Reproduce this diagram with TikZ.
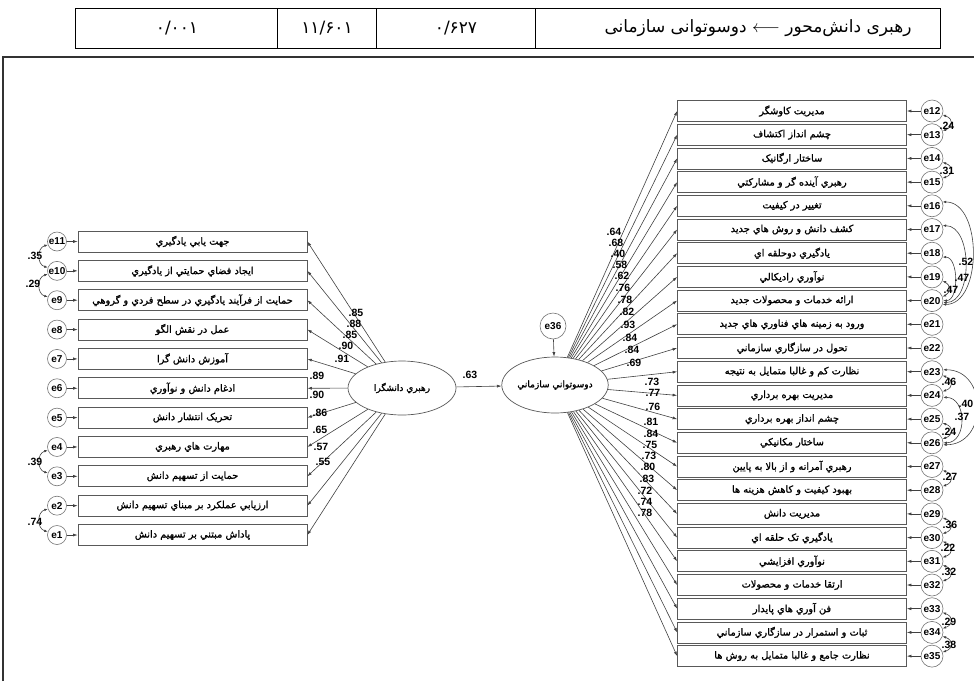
\documentclass[tikz,border=0pt]{standalone}
\usepackage{fontspec}
\setmainfont{Liberation Sans}
\newfontfamily\arab[Script=Arabic]{DejaVu Sans}
\newfontfamily\arabb[Script=Arabic,FakeBold=1.3]{DejaVu Sans}
\TeXXeTstate=1
\usetikzlibrary{shapes.geometric,arrows.meta}
\begin{document}
\begin{tikzpicture}[x=1pt,y=-1pt,
  arr/.style={draw=black!75, line width=0.6pt, -{Latex[length=4.5pt,width=3pt]}},
  cov/.style={draw=black!75, line width=0.6pt, {Latex[length=3.5pt,width=2.6pt]}-{Latex[length=3.5pt,width=2.6pt]}},
  obs/.style={draw=black!65, line width=0.7pt, fill=white, minimum width=229pt, minimum height=21pt, inner sep=0pt, font=\arabb\fontsize{9.8}{10}\selectfont},
  errl/.style={circle, draw=black!55, line width=0.6pt, minimum size=19pt, inner sep=0pt, font=\fontsize{10}{10}\selectfont\bfseries},
  errr/.style={circle, draw=black!55, line width=0.6pt, minimum size=22pt, inner sep=0pt, font=\fontsize{10}{10}\selectfont\bfseries},
  lat/.style={ellipse, draw=black!65, line width=0.7pt, fill=white, inner sep=0pt, font=\arabb\fontsize{9}{9}\selectfont},
  num/.style={inner sep=0pt, font=\fontsize{10.5}{11}\selectfont\bfseries},
  tab/.style={inner sep=0pt, font=\arab\fontsize{17}{18}\selectfont}
]
\useasboundingbox (0,0) rectangle (974,681);
% top table
\draw[line width=0.8pt] (75,8) rectangle (940,48);
\draw[line width=0.8pt] (277,8) -- (277,48) (376,8) -- (376,48) (535,8) -- (535,48);
\node[tab] (t1) at (177,28) {۰/۰۰۱};
\node[tab] (t2) at (327,28) {۱۱/۶۰۱};
\node[tab] (t3) at (456,28) {۰/۶۲۷};
\node[tab] (t4) at (758,28) {\beginR دوسوتوانی سازمانی\endR\ $\longleftarrow$\ \beginR رهبری دانش‌محور\endR};
% frame
\draw[line width=2pt, black!80] (3,681) -- (3,57) -- (974,57);
% latent variables
\node[lat, minimum width=108pt, minimum height=54pt] (L1) at (402,388) {\beginR رهبري دانشگرا\endR};
\node[lat, minimum width=106pt, minimum height=56pt] (L2) at (555,385) {\beginR دوسوتواني سازماني\endR};
\node[errr, minimum size=26pt] (c36) at (553,326) {e36};
\draw[arr] (c36) -- (L2);
\draw[arr] (L1) -- (L2);
\node[num] (p63) at (470,375) {.63};
% left indicators
\foreach \k/\n/\t in {0/11/{جهت يابي يادگيري},1/10/{ايجاد فضاي حمايتي از يادگيري},2/9/{حمايت از فرآيند يادگيري در سطح فردي و گروهي},3/8/{عمل در نقش الگو},4/7/{آموزش دانش گرا},5/6/{ادغام دانش و نوآوري},6/5/{تحريک انتشار دانش},7/4/{مهارت هاي رهبري},8/3/{حمايت از تسهيم دانش},9/2/{ارزيابي عملکرد بر مبناي تسهيم دانش},10/1/{پاداش مبتني بر تسهيم دانش}}{
  \node[obs] (l\n) at (192.5,{241.5+\k*29.35}) {\beginR\t\endR};
  \node[errl] (c\n) at (57,{241.5+\k*29.35}) {e\n};
  \draw[arr] (c\n) -- (l\n);
  \draw[arr] (L1) -- (l\n.east);
}
\foreach \v/\x/\y in {.85/356/313,.88/354/324,.85/350/335,.90/346/346,.91/342/359,.89/317/376,.90/317/395,.86/320/413,.65/320/430,.57/321/447,.55/323/462}{
  \node[num] at (\x,\y) {\v};
}
% left covariances
\draw[cov] (c11.200) .. controls +(-11,3) and +(-11,-3) .. (c10.160);
\draw[cov] (c10.200) .. controls +(-11,3) and +(-11,-3) .. (c9.160);
\draw[cov] (c4.200) .. controls +(-11,3) and +(-11,-3) .. (c3.160);
\draw[cov] (c2.200) .. controls +(-11,3) and +(-11,-3) .. (c1.160);
\node[num] at (35,256) {.35};
\node[num] at (33,284) {.29};
\node[num] at (35,462) {.39};
\node[num] at (35,522) {.74};
% right indicators
\foreach \n/\t in {12/{مديريت کاوشگر},13/{چشم انداز اکتشاف},14/{ساختار ارگانيک},15/{رهبري آينده گر و مشارکتي},16/{تغيير در کيفيت},17/{کشف دانش و روش هاي جديد},18/{يادگيري دوحلقه اي},19/{نوآوري راديکالي},20/{ارائه خدمات و محصولات جديد},21/{ورود به زمينه هاي فناوري هاي جديد},22/{تحول در سازگاري سازماني},23/{نظارت کم و غالبا متمايل به نتيجه},24/{مديريت بهره برداري},25/{چشم انداز بهره برداري},26/{ساختار مکانيکي},27/{رهبري آمرانه و از بالا به پايين},28/{بهبود کيفيت و کاهش هزينه ها},29/{مديريت دانش},30/{يادگيري تک حلقه اي},31/{نوآوري افزايشي},32/{ارتقا خدمات و محصولات},33/{فن آوري هاي پايدار},34/{ثبات و استمرار در سازگاري سازماني},35/{نظارت جامع و غالبا متمايل به روش ها}}{
  \node[obs] (r\n) at (792,{111+(\n-12)*23.7}) {\beginR\t\endR};
  \node[errr] (c\n) at (932,{111+(\n-12)*23.7}) {e\n};
  \draw[arr] (c\n) -- (r\n);
  \draw[arr] (L2) -- (r\n.west);
}
\foreach \v/\x/\y in {.64/614/232,.68/616/243,.40/618/254,.58/620/265,.62/622/276,.76/623/288,.78/625/300,.82/627/312,.93/628/325,.84/630/338,.84/632/350,.69/634/363,.73/652/382,.77/653/393,.76/653/407,.81/651/422,.84/651/434,.75/650/445,.73/649/456,.80/648/467,.83/647/479,.72/645/491,.74/645/502,.78/645/513}{
  \node[num] at (\x,\y) {\v};
}
% right covariances
\draw[cov] (c12.-20) .. controls +(11,4) and +(11,-4) .. (c13.20);
\draw[cov] (c14.-20) .. controls +(11,4) and +(11,-4) .. (c15.20);
\draw[cov] (c16.20) .. controls +(40,0) and +(40,0) .. (c20.-20);
\draw[cov] (c17.20) .. controls +(30,0) and +(30,0) .. (c20.-10);
\draw[cov] (c18.-20) .. controls +(16,0) and +(16,0) .. (c20.0);
\draw[cov] (c19.-20) .. controls +(8,4) and +(8,-4) .. (c20.20);
\draw[cov] (c23.-20) .. controls +(11,4) and +(11,-4) .. (c24.20);
\draw[cov] (c23.10) .. controls +(45,0) and +(45,0) .. (c26.-10);
\draw[cov] (c24.-10) .. controls +(24,0) and +(24,0) .. (c26.0);
\draw[cov] (c25.-20) .. controls +(11,4) and +(11,-4) .. (c26.20);
\draw[cov] (c27.-20) .. controls +(11,4) and +(11,-4) .. (c28.20);
\draw[cov] (c29.-20) .. controls +(11,4) and +(11,-4) .. (c30.20);
\draw[cov] (c30.-20) .. controls +(11,4) and +(11,-4) .. (c31.20);
\draw[cov] (c31.-20) .. controls +(11,4) and +(11,-4) .. (c32.20);
\draw[cov] (c33.-20) .. controls +(11,4) and +(11,-4) .. (c34.20);
\draw[cov] (c34.-20) .. controls +(11,4) and +(11,-4) .. (c35.20);
\node[num] at (947,126) {.24};
\node[num] at (947,171) {.31};
\node[num, anchor=east] at (973.5,262) {.52};
\node[num] at (962,278) {.47};
\node[num] at (951,290) {.47};
\node[num] at (949,382) {.46};
\node[num, anchor=east] at (973.5,404) {.40};
\node[num] at (962,417) {.37};
\node[num] at (949,432) {.24};
\node[num] at (950,477) {.27};
\node[num] at (950,525) {.36};
\node[num] at (948,548) {.22};
\node[num] at (949,572) {.32};
\node[num] at (949,622) {.29};
\node[num] at (949,645) {.38};
\end{tikzpicture}
\end{document}
